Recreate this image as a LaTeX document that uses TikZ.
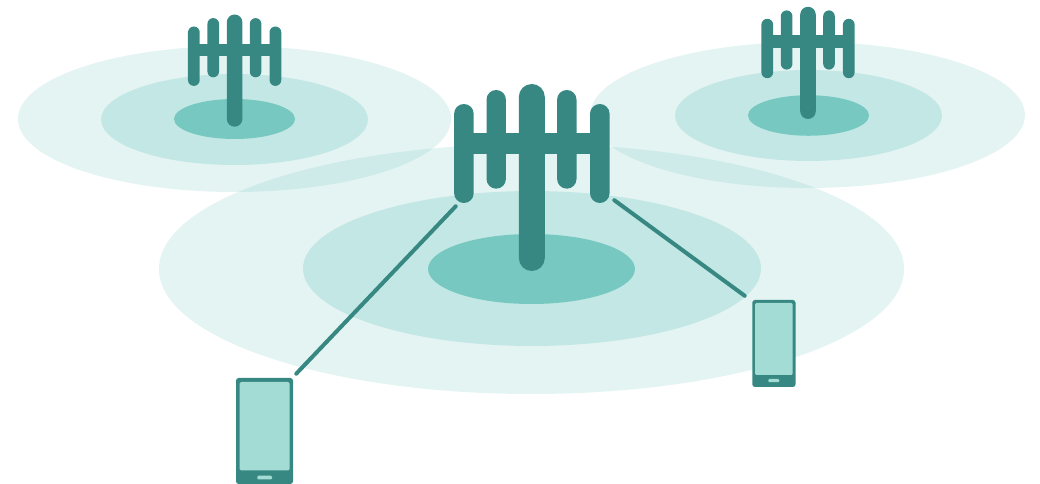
\documentclass[tikz,border=0pt]{standalone}
\definecolor{tealdark}{HTML}{378882}
\definecolor{tealmain}{HTML}{76C8C1}
\definecolor{tealscreen}{HTML}{A3DCD5}
\tikzset{
  px/.style={x=0.75pt,y=-0.75pt},
  ringouter/.style={fill=tealmain,fill opacity=0.2,draw=none},
  ringmid/.style={fill=tealmain,fill opacity=0.3,draw=none},
  ringinner/.style={fill=tealmain,draw=none},
  link/.style={draw=tealdark,line cap=round,line width=3pt},
  linkend/.style={inner sep=0pt,minimum size=0pt},
  phonebody/.style={fill=tealdark,rounded corners=2pt,draw=none},
  phonescreen/.style={fill=tealscreen,rounded corners=1pt,draw=none},
  phonebutton/.style={fill=tealscreen,rounded corners=0.8pt,draw=none},
}
% tower: x, y(mast bottom), scale, crossbar shift
\newcommand{\towerdraw}[4]{%
  \begin{scope}[shift={(#1,#2)},x=#3*0.75pt,y=-#3*0.75pt]
    \fill[tealdark] (-68,-138+#4) rectangle (68,-117+#4);
    \foreach \xa/\ya/\yb/\w in {-67.9/-167/-68/19.6,-35.6/-181/-82.3/19.4,35/-181/-82.3/19.4,68/-167/-68/19.6,0/-187/0/26}{
      \pgfmathsetmacro{\rr}{\w/2}
      \fill[tealdark,rounded corners=\rr*#3*0.75pt] (\xa-\rr,\ya) rectangle (\xa+\rr,\yb);
    }
  \end{scope}
}
\begin{document}
\begin{tikzpicture}[px]
\useasboundingbox (0,0) rectangle (1040,484);
% left zones
\fill[ringouter] (234.5,119) ellipse [x radius=162.4pt,y radius=54.75pt];
\fill[ringmid] (234.5,119.5) ellipse [x radius=100.1pt,y radius=34.1pt];
\fill[ringinner] (234.5,119) ellipse [x radius=45.4pt,y radius=15pt];
% right zones
\fill[ringouter] (807.5,115) ellipse [x radius=163.1pt,y radius=54.75pt];
\fill[ringmid] (808.5,115.5) ellipse [x radius=100.1pt,y radius=34.1pt];
\fill[ringinner] (808.5,115.5) ellipse [x radius=45.4pt,y radius=15.2pt];
% main zones
\fill[ringouter] (531.5,269) ellipse [x radius=279.4pt,y radius=93.75pt];
\fill[ringmid] (532,268.5) ellipse [x radius=171.75pt,y radius=58.1pt];
\fill[ringinner] (531.5,269) ellipse [x radius=77.6pt,y radius=26.25pt];
% towers
\towerdraw{234.6}{126.7}{0.6}{0}
\towerdraw{808}{119}{0.6}{-1.5}
\towerdraw{531.8}{271}{1}{0}
% phones
\fill[phonebody] (236,378) rectangle (293,484);
\fill[phonescreen] (239.7,382) rectangle (289.5,470.5);
\fill[phonebutton] (257.3,475.7) rectangle (272,479.4);
\node[linkend] (phoneA) at (296,374) {};
\node[linkend] (towerA) at (456,206) {};
\draw[link] (towerA) -- (phoneA);
\fill[phonebody] (752.3,300) rectangle (795.5,387);
\fill[phonescreen] (755,303) rectangle (792.7,375);
\fill[phonebutton] (768.3,379) rectangle (779.3,382.2);
\node[linkend] (phoneB) at (745,296) {};
\node[linkend] (towerB) at (614,200) {};
\draw[link] (towerB) -- (phoneB);
\end{tikzpicture}
\end{document}
